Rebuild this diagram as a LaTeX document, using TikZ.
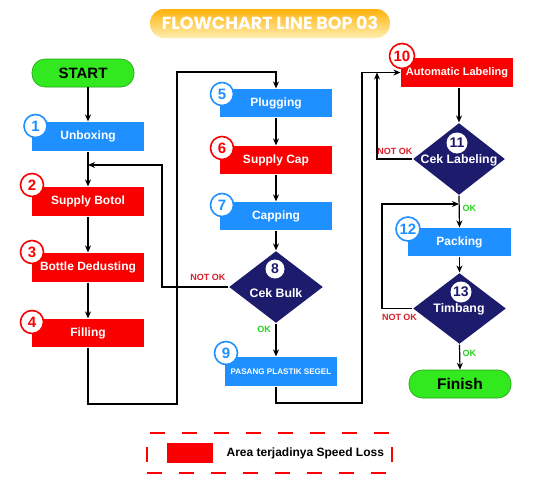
\documentclass[tikz,border=0pt]{standalone}
\usepackage{fontspec}
\setmainfont{Liberation Sans}
\newfontfamily\titlefont{Poppins}
\usepackage{xcolor}
\usetikzlibrary{shapes.geometric,arrows.meta}

\definecolor{procblue}{RGB}{30,144,255}
\definecolor{procred}{RGB}{250,0,0}
\definecolor{decnavy}{RGB}{28,27,108}
\definecolor{termgreen}{RGB}{50,232,30}
\definecolor{okgreen}{RGB}{40,210,30}
\definecolor{notred}{RGB}{220,30,40}

\begin{document}
\begin{tikzpicture}[
  x=1pt, y=-1pt,
  >={Stealth[length=7pt,width=6pt]},
  line width=1.2pt,
  proc/.style={rectangle, fill=procblue, text=white,
    minimum width=112pt, minimum height=29pt, inner sep=0pt,
    font=\bfseries\fontsize{12}{14}\selectfont},
  rproc/.style={proc, fill=procred},
  dec/.style={diamond, fill=decnavy, minimum width=94pt,
    minimum height=72pt, inner sep=0pt},
  dtext/.style={text=white, inner sep=0pt,
    font=\bfseries\fontsize{12.3}{14}\selectfont},
  term/.style={rectangle, rounded corners=13pt, fill=termgreen,
    draw=termgreen!70!black, line width=0.6pt, minimum width=102pt,
    minimum height=28pt, font=\bfseries\fontsize{15}{17}\selectfont},
  num/.style={circle, fill=white, draw=#1, text=#1, line width=1.6pt,
    minimum size=23pt, inner sep=0pt,
    font=\bfseries\fontsize{15}{16}\selectfont},
  dnum/.style={circle, fill=white, text=decnavy, minimum size=19pt,
    inner sep=0pt, font=\bfseries\fontsize{14}{15}\selectfont},
  lblno/.style={text=notred, inner sep=1pt,
    font=\bfseries\fontsize{9}{10}\selectfont},
  lblok/.style={lblno, text=okgreen},
  ttl/.style={rectangle, rounded corners=14pt,
    top color={rgb,255:red,255;green,178;blue,10},
    bottom color={rgb,255:red,255;green,238;blue,175},
    minimum width=240pt, minimum height=29pt, text=white,
    font=\titlefont\bfseries\fontsize{17.5}{19}\selectfont}
]
\fill[white] (0,0) rectangle (542,485);
\useasboundingbox (0,0) rectangle (542,485);

% ── Title ──
\node[ttl] (title) at (270,23.5) {FLOWCHART LINE BOP 03};

% ── Column 1 ──
\node[term]  (start)  at (83,73)     {START};
\node[proc]  (unbox)  at (88,136.5)  {Unboxing};
\node[rproc] (sbotol) at (88,201.5)  {Supply Botol};
\node[rproc] (dedust) at (88,267.5)  {Bottle Dedusting};
\node[rproc, minimum height=28pt] (fill) at (88,333) {Filling};

% ── Column 2 ──
\node[proc, minimum height=28pt]  (plug) at (276,103) {Plugging};
\node[rproc, minimum height=28pt] (scap) at (276,160) {Supply Cap};
\node[proc, minimum height=28pt]  (capp) at (276,216) {Capping};
\node[dec] (bulk) at (276,287) {};
\node[dtext] (bulktxt) at (276,293) {Cek Bulk};
\node[proc, font=\bfseries\fontsize{8.1}{9}\selectfont]
  (pasang) at (281,371.5) {PASANG PLASTIK SEGEL};

% ── Column 3 ──
\node[rproc, font=\bfseries\fontsize{11}{13}\selectfont]
  (autolab) at (457,72.5) {Automatic Labeling};
\node[dec, minimum width=92pt] (clab) at (459,159) {};
\node[dtext] (clabtxt) at (459,160) {Cek Labeling};
\node[proc, minimum width=103pt, minimum height=28pt]
  (pack) at (459.5,242) {Packing};
\node[dec, minimum width=93pt, minimum height=71pt] (timb) at (459.5,308.5) {};
\node[dtext] (timbtxt) at (459,309) {Timbang};
\node[term, font=\bfseries\fontsize{15.5}{17}\selectfont]
  (fin) at (460,384) {Finish};

% ── Step numbers ──
\node[num=procblue] (n1)  at (35.5,126) {1};
\node[num=procred]  (n2)  at (32,185)   {2};
\node[num=procred]  (n3)  at (32,252)   {3};
\node[num=procred]  (n4)  at (32,322)   {4};
\node[num=procblue] (n5)  at (222,94)   {5};
\node[num=procred]  (n6)  at (222,148)  {6};
\node[num=procblue] (n7)  at (222,205)  {7};
\node[dnum]         (n8)  at (275,269)  {8};
\node[num=procblue] (n9)  at (226,353)  {9};
\node[num=procred, minimum size=25pt] (n10) at (402,56) {10};
\node[dnum, minimum size=21pt] (n11) at (457,143) {11};
\node[num=procblue, minimum size=24pt] (n12) at (408,229) {12};
\node[dnum, minimum size=21pt] (n13) at (461,292) {13};

% ── Bends ──
\coordinate (c1) at (177,404);
\coordinate (c2) at (177,72);
\coordinate (c3) at (162,165);
\coordinate (c5) at (362,403);
\coordinate (c6) at (377,72.5);
\coordinate (c7) at (382,204);

% ── Main flow ──
\draw[->] (start.south -| unbox.north) -- (unbox.north);
\draw[->] (unbox.south) -- (sbotol.north);
\draw[->] (sbotol.south) -- (dedust.north);
\draw[->] (dedust.south) -- (fill.north);
\draw[->] (fill.south) |- (c1) -- (c2) -| (plug.north);
\draw[->] (plug.south) -- (scap.north);
\draw[->] (scap.south) -- (capp.north);
\draw[->] (capp.south) -- (bulk.north);
\draw[->] (bulk.south) -- (bulk.south |- pasang.north);
\draw[->] (pasang.south -| bulk.south) |- (c5) |- (autolab.west);
\draw[->] (clab.north |- autolab.south) -- (clab.north);
\draw[->] (clab.south) -- (pack.north);
\draw[->] (pack.south) -- (timb.north);
\draw[->] (timb.south) -- (fin.north);

% ── Rework loops ──
\draw[->] (bulk.west) -| (c3) -- (c3 -| unbox.south);
\draw[->] (clab.west) -| (c6);
\draw[->] (timb.west) -| (c7) -- (c7 -| clab.south);

% ── Branch labels ──
\node[lblno, anchor=east] (nok1) at (227,277) {NOT OK};
\node[lblok] (ok1) at (264,329) {OK};
\node[lblno, anchor=east] (nok2) at (414,151) {NOT OK};
\node[lblok, anchor=west] (ok2) at (461,208) {OK};
\node[lblno] (nok3) at (399.5,317) {NOT OK};
\node[lblok, anchor=west] (ok3) at (461,353) {OK};

% ── Legend ──
\node[draw=red, line width=2pt, dash pattern=on 15pt off 17pt,
  minimum width=245pt, minimum height=40pt] (legend) at (269.5,453) {};
\node[fill=procred, minimum width=46pt, minimum height=20pt,
  inner sep=0pt] (legkey) at (190,453) {};
\node[anchor=west, inner sep=0pt, font=\bfseries\fontsize{12}{14}\selectfont]
  (legtxt) at (226,453) {Area terjadinya Speed Loss};

\end{tikzpicture}
\end{document}
